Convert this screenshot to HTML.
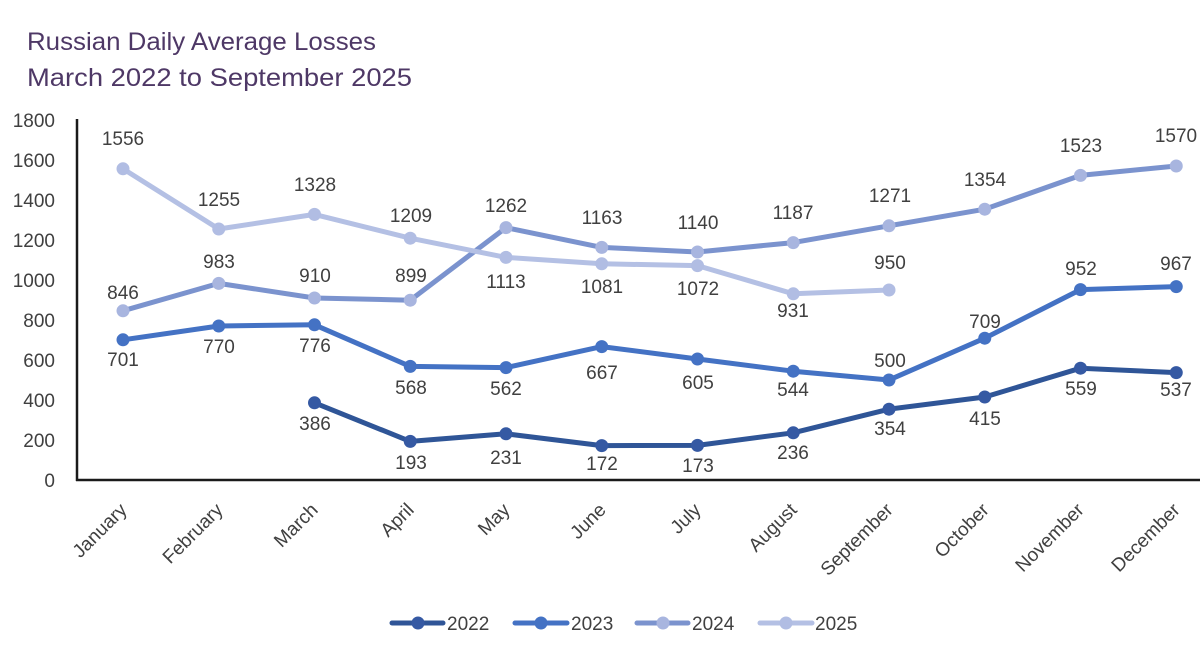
<!DOCTYPE html>
<html>
<head>
<meta charset="utf-8">
<style>
  html,body{margin:0;padding:0;background:#ffffff;}
  svg{display:block;}
  text{font-family:"Liberation Sans",sans-serif;}
</style>
</head>
<body>
<svg width="1200" height="650" viewBox="0 0 1200 650" xmlns="http://www.w3.org/2000/svg">
  <rect width="1200" height="650" fill="#ffffff"/>

  <!-- Title -->
  <text x="27" y="50" font-size="25" fill="#4E3866" textLength="349" lengthAdjust="spacingAndGlyphs">Russian Daily Average Losses</text>
  <text x="27" y="86" font-size="25" fill="#4E3866" textLength="385" lengthAdjust="spacingAndGlyphs">March 2022 to September 2025</text>

  <!-- Y tick labels -->
  <g font-size="19" fill="#404040" text-anchor="end">
    <text x="55" y="127">1800</text>
    <text x="55" y="167">1600</text>
    <text x="55" y="207">1400</text>
    <text x="55" y="247">1200</text>
    <text x="55" y="287">1000</text>
    <text x="55" y="327">800</text>
    <text x="55" y="367">600</text>
    <text x="55" y="407">400</text>
    <text x="55" y="447">200</text>
    <text x="55" y="487">0</text>
  </g>

  <!-- Axes -->
  <line x1="77" y1="119" x2="77" y2="481" stroke="#1a1a1a" stroke-width="2.5"/>
  <line x1="76" y1="480" x2="1200" y2="480" stroke="#1a1a1a" stroke-width="2.5"/>

  <!-- Month labels -->
  <g font-size="19" fill="#404040" text-anchor="end">
    <text transform="translate(128,511) rotate(-45)">January</text>
    <text transform="translate(224,511) rotate(-45)">February</text>
    <text transform="translate(319,511) rotate(-45)">March</text>
    <text transform="translate(415,511) rotate(-45)">April</text>
    <text transform="translate(511,511) rotate(-45)">May</text>
    <text transform="translate(607,511) rotate(-45)">June</text>
    <text transform="translate(702,511) rotate(-45)">July</text>
    <text transform="translate(798,511) rotate(-45)">August</text>
    <text transform="translate(894,511) rotate(-45)">September</text>
    <text transform="translate(990,511) rotate(-45)">October</text>
    <text transform="translate(1085,511) rotate(-45)">November</text>
    <text transform="translate(1181,511) rotate(-45)">December</text>
  </g>

  <!-- Series 2022 -->
  <polyline fill="none" stroke="#2F5597" stroke-width="5" stroke-linejoin="round"
    points="314.5,402.8 410.25,441.4 506,433.8 601.75,445.6 697.5,445.4 793.25,432.8 889,409.2 984.75,397 1080.5,368.2 1176.25,372.6"/>
  <g fill="#3559A3">
    <circle cx="314.5" cy="402.8" r="6.5"/>
    <circle cx="410.25" cy="441.4" r="6.5"/>
    <circle cx="506" cy="433.8" r="6.5"/>
    <circle cx="601.75" cy="445.6" r="6.5"/>
    <circle cx="697.5" cy="445.4" r="6.5"/>
    <circle cx="793.25" cy="432.8" r="6.5"/>
    <circle cx="889" cy="409.2" r="6.5"/>
    <circle cx="984.75" cy="397" r="6.5"/>
    <circle cx="1080.5" cy="368.2" r="6.5"/>
    <circle cx="1176.25" cy="372.6" r="6.5"/>
  </g>

  <!-- Series 2023 -->
  <polyline fill="none" stroke="#4472C4" stroke-width="5" stroke-linejoin="round"
    points="123,339.8 218.75,326 314.5,324.8 410.25,366.4 506,367.6 601.75,346.6 697.5,359 793.25,371.2 889,380 984.75,338.2 1080.5,289.6 1176.25,286.6"/>
  <g fill="#4472C4">
    <circle cx="123" cy="339.8" r="6.5"/>
    <circle cx="218.75" cy="326" r="6.5"/>
    <circle cx="314.5" cy="324.8" r="6.5"/>
    <circle cx="410.25" cy="366.4" r="6.5"/>
    <circle cx="506" cy="367.6" r="6.5"/>
    <circle cx="601.75" cy="346.6" r="6.5"/>
    <circle cx="697.5" cy="359" r="6.5"/>
    <circle cx="793.25" cy="371.2" r="6.5"/>
    <circle cx="889" cy="380" r="6.5"/>
    <circle cx="984.75" cy="338.2" r="6.5"/>
    <circle cx="1080.5" cy="289.6" r="6.5"/>
    <circle cx="1176.25" cy="286.6" r="6.5"/>
  </g>

  <!-- Series 2024 -->
  <polyline fill="none" stroke="#7B93CE" stroke-width="5" stroke-linejoin="round"
    points="123,310.8 218.75,283.4 314.5,298 410.25,300.2 506,227.6 601.75,247.4 697.5,252 793.25,242.6 889,225.8 984.75,209.2 1080.5,175.4 1176.25,166"/>
  <g fill="#A8B5DF">
    <circle cx="123" cy="310.8" r="6.5"/>
    <circle cx="218.75" cy="283.4" r="6.5"/>
    <circle cx="314.5" cy="298" r="6.5"/>
    <circle cx="410.25" cy="300.2" r="6.5"/>
    <circle cx="506" cy="227.6" r="6.5"/>
    <circle cx="601.75" cy="247.4" r="6.5"/>
    <circle cx="697.5" cy="252" r="6.5"/>
    <circle cx="793.25" cy="242.6" r="6.5"/>
    <circle cx="889" cy="225.8" r="6.5"/>
    <circle cx="984.75" cy="209.2" r="6.5"/>
    <circle cx="1080.5" cy="175.4" r="6.5"/>
    <circle cx="1176.25" cy="166" r="6.5"/>
  </g>

  <!-- Series 2025 -->
  <polyline fill="none" stroke="#B4C0E4" stroke-width="5" stroke-linejoin="round"
    points="123,168.8 218.75,229 314.5,214.4 410.25,238.2 506,257.4 601.75,263.8 697.5,265.6 793.25,293.8 889,290"/>
  <g fill="#B1BDE3">
    <circle cx="123" cy="168.8" r="6.5"/>
    <circle cx="218.75" cy="229" r="6.5"/>
    <circle cx="314.5" cy="214.4" r="6.5"/>
    <circle cx="410.25" cy="238.2" r="6.5"/>
    <circle cx="506" cy="257.4" r="6.5"/>
    <circle cx="601.75" cy="263.8" r="6.5"/>
    <circle cx="697.5" cy="265.6" r="6.5"/>
    <circle cx="793.25" cy="293.8" r="6.5"/>
    <circle cx="889" cy="290" r="6.5"/>
  </g>

  <!-- Data labels -->
  <g font-size="19" fill="#404040" text-anchor="middle">
    <!-- 2025 -->
    <text x="123" y="145">1556</text>
    <text x="219" y="206">1255</text>
    <text x="315" y="191">1328</text>
    <text x="411" y="222">1209</text>
    <text x="506" y="288">1113</text>
    <text x="602" y="293">1081</text>
    <text x="698" y="295">1072</text>
    <text x="793" y="317">931</text>
    <text x="890" y="269">950</text>
    <!-- 2024 -->
    <text x="123" y="299">846</text>
    <text x="219" y="268">983</text>
    <text x="315" y="282">910</text>
    <text x="411" y="282">899</text>
    <text x="506" y="212">1262</text>
    <text x="602" y="224">1163</text>
    <text x="698" y="229">1140</text>
    <text x="793" y="219">1187</text>
    <text x="890" y="202">1271</text>
    <text x="985" y="186">1354</text>
    <text x="1081" y="152">1523</text>
    <text x="1176" y="142">1570</text>
    <!-- 2023 -->
    <text x="123" y="366">701</text>
    <text x="219" y="353">770</text>
    <text x="315" y="352">776</text>
    <text x="411" y="394">568</text>
    <text x="506" y="395">562</text>
    <text x="602" y="379">667</text>
    <text x="698" y="389">605</text>
    <text x="793" y="396">544</text>
    <text x="890" y="367">500</text>
    <text x="985" y="328">709</text>
    <text x="1081" y="275">952</text>
    <text x="1176" y="270">967</text>
    <!-- 2022 -->
    <text x="315" y="430">386</text>
    <text x="411" y="469">193</text>
    <text x="506" y="464">231</text>
    <text x="602" y="470">172</text>
    <text x="698" y="472">173</text>
    <text x="793" y="459">236</text>
    <text x="890" y="435">354</text>
    <text x="985" y="425">415</text>
    <text x="1081" y="395">559</text>
    <text x="1176" y="396">537</text>
  </g>

  <!-- Legend -->
  <g>
    <line x1="392" y1="623" x2="443" y2="623" stroke="#2F5597" stroke-width="5" stroke-linecap="round"/>
    <circle cx="418" cy="623" r="6.5" fill="#3559A3"/>
    <text x="447" y="630" font-size="19" fill="#404040">2022</text>

    <line x1="515" y1="623" x2="567" y2="623" stroke="#4472C4" stroke-width="5" stroke-linecap="round"/>
    <circle cx="541" cy="623" r="6.5" fill="#4472C4"/>
    <text x="571" y="630" font-size="19" fill="#404040">2023</text>

    <line x1="637" y1="623" x2="688" y2="623" stroke="#7B93CE" stroke-width="5" stroke-linecap="round"/>
    <circle cx="663" cy="623" r="6.5" fill="#A8B5DF"/>
    <text x="692" y="630" font-size="19" fill="#404040">2024</text>

    <line x1="760" y1="623" x2="812" y2="623" stroke="#B4C0E4" stroke-width="5" stroke-linecap="round"/>
    <circle cx="786" cy="623" r="6.5" fill="#B1BDE3"/>
    <text x="815" y="630" font-size="19" fill="#404040">2025</text>
  </g>
</svg>
</body>
</html>
